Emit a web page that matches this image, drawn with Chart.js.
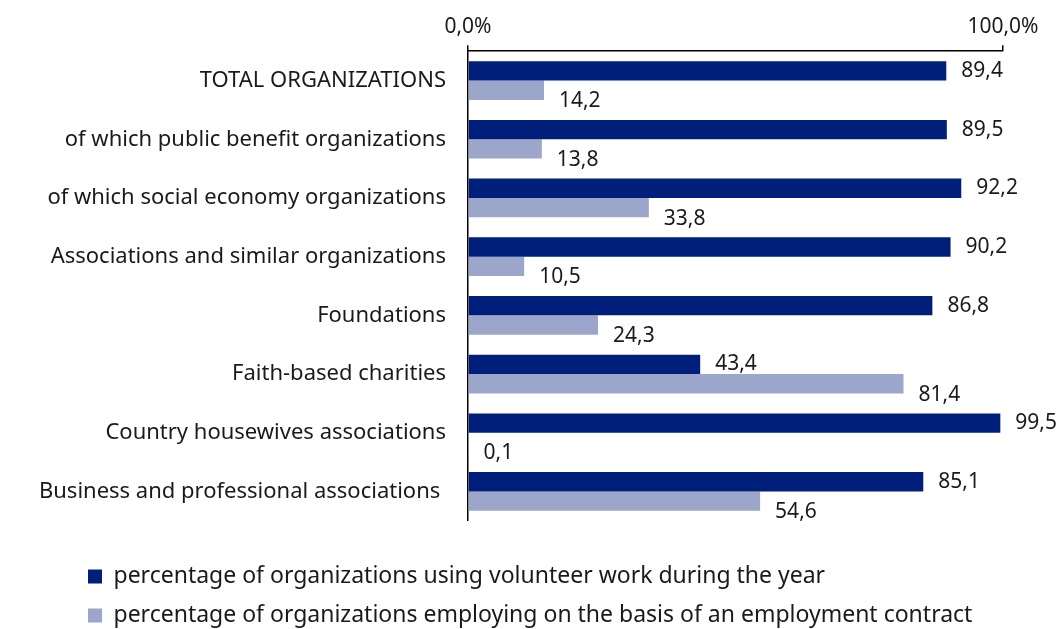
<!DOCTYPE html>
<html>
<head>
<meta charset="utf-8">
<script src="https://cdn.jsdelivr.net/npm/chart.js@4/dist/chart.umd.min.js"></script>
<style>
  html, body { margin: 0; padding: 0; background: #fff; }
  #wrap { width: 1062px; height: 629px; }
</style>
</head>
<body>
<div id="wrap"><canvas id="chart" width="1062" height="629"></canvas></div>
<script>
const categories = [
  'TOTAL ORGANIZATIONS',
  'of which public benefit organizations',
  'of which social economy organizations',
  'Associations and similar organizations',
  'Foundations',
  'Faith-based charities',
  'Country housewives associations',
  'Business and professional associations '
];
const volunteer = [89.4, 89.5, 92.2, 90.2, 86.8, 43.4, 99.5, 85.1];
const employment = [14.2, 13.8, 33.8, 10.5, 24.3, 81.4, 0.1, 54.6];
const seriesNames = [
  'percentage of organizations using volunteer work during the year',
  'percentage of organizations employing on the basis of an employment contract'
];
const xTicks = [0, 100];

const FONT = '"Noto Sans", sans-serif';
const comma = (v, d) => v.toFixed(d).replace('.', ',');

// value labels next to the bar ends
const valueLabels = {
  id: 'valueLabels',
  afterDatasetsDraw(chart) {
    const ctx = chart.ctx;
    ctx.save();
    ctx.font = '21px ' + FONT;
    ctx.fillStyle = '#1a1a1a';
    ctx.textAlign = 'left';
    ctx.textBaseline = 'middle';
    chart.data.datasets.forEach((ds, i) => {
      const meta = chart.getDatasetMeta(i);
      const dy = i === 0 ? 0 : 11;
      meta.data.forEach((bar, j) => {
        ctx.fillText(comma(ds.data[j], 1), bar.x + 15, bar.y + dy);
      });
    });
    ctx.restore();
  }
};

// push the legend rows in under the category labels
const legendShift = {
  id: 'legendShift',
  afterLayout(chart) {
    chart.legend.left += 72;
    chart.legend.right += 72;
  }
};

new Chart(document.getElementById('chart'), {
  type: 'bar',
  data: {
    labels: categories,
    datasets: [
      { label: seriesNames[0], data: volunteer, backgroundColor: '#001f7a', borderWidth: 0 },
      { label: seriesNames[1], data: employment, backgroundColor: '#9ca6ca', borderWidth: 0 }
    ]
  },
  options: {
    indexAxis: 'y',
    responsive: false,
    animation: false,
    categoryPercentage: 0.66,
    barPercentage: 1,
    layout: { padding: { left: 0, right: 59, top: 8, bottom: -8 } },
    scales: {
      x: {
        position: 'top',
        min: 0,
        max: 100,
        afterBuildTicks: s => { s.ticks = xTicks.map(v => ({ value: v })); },
        ticks: {
          callback: v => comma(v, 1) + '%',
          font: { family: FONT, size: 21 },
          color: '#1a1a1a',
          padding: 6,
          maxRotation: 0
        },
        grid: { drawOnChartArea: false, drawTicks: true, tickLength: 6, color: '#000', lineWidth: 1.5 },
        border: { display: true, color: '#000', width: 1.5 }
      },
      y: {
        afterFit: s => { s.width = 468; },
        ticks: {
          font: { family: FONT, size: 22 },
          color: '#1a1a1a',
          padding: 22
        },
        grid: { drawOnChartArea: false, drawTicks: false },
        border: { display: true, color: '#000', width: 1.5 }
      }
    },
    plugins: {
      legend: {
        position: 'bottom',
        align: 'start',
        title: { display: true, text: '', font: { size: 1 }, padding: { top: 0, bottom: 27 } },
        labels: {
          boxWidth: 14,
          boxHeight: 14,
          padding: 16,
          color: '#1a1a1a',
          font: { family: FONT, size: 23 }
        }
      },
      tooltip: { enabled: false }
    }
  },
  plugins: [valueLabels, legendShift]
});
</script>
</body>
</html>
